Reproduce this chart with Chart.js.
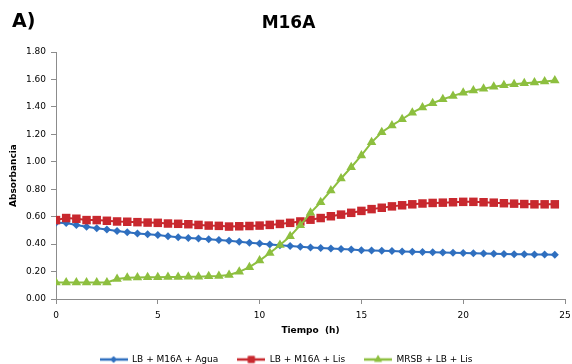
<!DOCTYPE html>
<html>
<head>
<meta charset="utf-8">
<script src="https://cdn.jsdelivr.net/npm/chart.js@4/dist/chart.umd.min.js"></script>
<style>
  html, body { margin: 0; padding: 0; background: #fff; }
  #wrap { position: relative; width: 572px; height: 364px; }
  #panel { position: absolute; left: 12px; top: 9px; font: bold 19px "DejaVu Sans", sans-serif; color: #000; }
  #title { position: absolute; left: 0; width: 577px; top: 12px; text-align: center; font: bold 17px "DejaVu Sans", sans-serif; color: #000; }
  canvas { position: absolute; left: 0; top: 0; }
</style>
</head>
<body>
<div id="wrap">
  <canvas id="c" width="572" height="364"></canvas>
  <div id="panel">A)</div>
  <div id="title">M16A</div>
</div>
<script>
// ---- data ----
const hours = [0,0.5,1,1.5,2,2.5,3,3.5,4,4.5,5,5.5,6,6.5,7,7.5,8,8.5,9,9.5,10,10.5,11,11.5,12,12.5,13,13.5,14,14.5,15,15.5,16,16.5,17,17.5,18,18.5,19,19.5,20,20.5,21,21.5,22,22.5,23,23.5,24,24.5];
const seriesNames = ["LB + M16A + Agua", "LB + M16A + Lis", "MRSB + LB + Lis"];
const lbM16aAgua = [0.556,0.553,0.540,0.527,0.515,0.507,0.495,0.487,0.478,0.472,0.466,0.458,0.450,0.445,0.440,0.435,0.430,0.425,0.418,0.410,0.404,0.398,0.392,0.386,0.380,0.376,0.372,0.368,0.364,0.360,0.356,0.354,0.351,0.349,0.347,0.345,0.343,0.341,0.339,0.337,0.335,0.333,0.331,0.330,0.328,0.327,0.326,0.325,0.324,0.323];
const lbM16aLis = [0.575,0.590,0.585,0.575,0.575,0.570,0.565,0.563,0.560,0.557,0.555,0.550,0.548,0.545,0.540,0.535,0.533,0.528,0.530,0.532,0.535,0.540,0.547,0.555,0.565,0.578,0.590,0.603,0.615,0.628,0.642,0.655,0.665,0.675,0.683,0.690,0.696,0.700,0.702,0.705,0.708,0.708,0.705,0.702,0.698,0.695,0.692,0.690,0.690,0.690];
const mrsbLbLis = [0.120,0.120,0.120,0.120,0.120,0.120,0.145,0.155,0.157,0.158,0.158,0.160,0.160,0.162,0.163,0.165,0.167,0.175,0.198,0.232,0.280,0.335,0.393,0.457,0.538,0.628,0.705,0.790,0.878,0.960,1.046,1.142,1.215,1.265,1.310,1.358,1.396,1.427,1.456,1.480,1.503,1.520,1.533,1.546,1.557,1.565,1.572,1.578,1.585,1.592];
const yTicks = [0,0.2,0.4,0.6,0.8,1.0,1.2,1.4,1.6,1.8];
const xTicks = [0,5,10,15,20,25];

// ---- styles ----
const colors = ["#2F6FBF", "#C8282E", "#8DBF3F"];
const styles = ["rectRot", "rect", "triangle"];
const radii = [4, 6, 5.5];

function legendIcon(color, style, r) {
  const c = document.createElement('canvas');
  c.width = 28; c.height = 12;
  const g = c.getContext('2d');
  g.strokeStyle = color; g.lineWidth = 2.5;
  g.beginPath(); g.moveTo(0, 6); g.lineTo(28, 6); g.stroke();
  g.fillStyle = color;
  Chart.helpers.drawPoint(g, {pointStyle: style, radius: r * 0.8, borderWidth: 0, rotation: 0}, 14, 6);
  g.fill();
  return c;
}

const sets = [lbM16aAgua, lbM16aLis, mrsbLbLis].map((vals, i) => ({
  label: seriesNames[i],
  data: hours.map((h, k) => ({x: h, y: vals[k]})),
  borderColor: colors[i],
  backgroundColor: colors[i],
  pointBackgroundColor: colors[i],
  pointBorderColor: colors[i],
  pointBorderWidth: 0,
  pointStyle: styles[i],
  pointRadius: radii[i],
  borderWidth: 2,
  tension: 0,
  order: 3 - i
}));

const axisColor = "#8c8c8c";
const tickFont = {family: "DejaVu Sans", size: 9};

new Chart(document.getElementById('c'), {
  type: 'line',
  data: {datasets: sets},
  options: {
    responsive: false,
    animation: false,
    layout: {padding: {left: 0, right: 0, top: 52, bottom: 0}},
    plugins: {
      title: {display: false},
      tooltip: {enabled: false},
      legend: {
        display: true,
        position: 'bottom',
        maxHeight: 28,
        labels: {
          usePointStyle: true,
          pointStyleWidth: 28,
          boxHeight: 9,
          padding: 19,
          color: '#000',
          font: {family: "DejaVu Sans", size: 9},
          generateLabels: (chart) => chart.data.datasets.map((ds, i) => ({
            text: ds.label,
            fillStyle: colors[i],
            strokeStyle: colors[i],
            lineWidth: 0,
            pointStyle: legendIcon(colors[i], styles[i], radii[i]),
            datasetIndex: i,
            hidden: false,
            fontColor: '#000'
          }))
        }
      }
    },
    scales: {
      x: {
        type: 'linear',
        min: 0, max: 25,
        afterBuildTicks: (s) => { s.ticks = xTicks.map(v => ({value: v})); },
        afterFit: (s) => { s.height = 37; s.paddingRight = 7; },
        ticks: {font: tickFont, color: '#000', padding: 6, maxRotation: 0},
        grid: {display: true, drawOnChartArea: false, drawTicks: true, tickLength: 5, color: axisColor},
        border: {display: true, color: axisColor, width: 1},
        title: {display: true, text: "Tiempo  (h)", font: {family: "DejaVu Sans", size: 9, weight: 'bold'}, color: '#000', padding: {top: 4, bottom: 0}}
      },
      y: {
        min: 0, max: 1.8,
        afterBuildTicks: (s) => { s.ticks = yTicks.map(v => ({value: v})); },
        afterFit: (s) => { s.width = 56; },
        ticks: {font: tickFont, color: '#000', padding: 5, callback: (v) => Number(v).toFixed(2)},
        grid: {display: true, drawOnChartArea: false, drawTicks: true, tickLength: 5, color: axisColor},
        border: {display: true, color: axisColor, width: 1},
        title: {display: true, text: "Absorbancia", font: {family: "DejaVu Sans", size: 9, weight: 'bold'}, color: '#000', padding: {top: 8, bottom: 0}}
      }
    }
  }
});
</script>
</body>
</html>
